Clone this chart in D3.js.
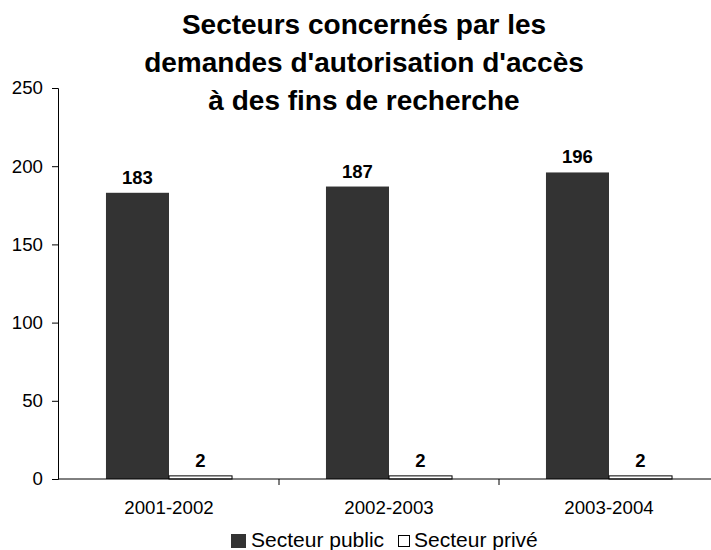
<!DOCTYPE html>
<html><head><meta charset="utf-8">
<script src="https://cdn.jsdelivr.net/npm/d3@7"></script>
<style>body{margin:0;background:#fff}svg{display:block;font-family:"Liberation Sans",Arial,sans-serif}</style>
</head><body><svg id="c" width="711" height="550"></svg>
<script>
const categories = ["2001-2002","2002-2003","2003-2004"];
const seriesNames = ["Secteur public","Secteur privé"];
const publicValues = [183,187,196];
const priveValues = [2,2,2];
const yTicks = [0,50,100,150,200,250];
const titleLines = ["Secteurs concernés par les","demandes d'autorisation d'accès","à des fins de recherche"];

const svg = d3.select("#c");
const colors = ["#333333","#ffffff"];
const FF = "Liberation Sans, Arial, sans-serif";
const y = d3.scaleLinear().domain([0,250]).range([479,88]);
const x0 = d3.scaleBand().domain(categories).range([59,719]).paddingInner(0.427).paddingOuter(0.2135);
const x1 = d3.scaleBand().domain(seriesNames).range([0,x0.bandwidth()]);
const xAxisScale = d3.scaleBand().domain(categories).range([59,719]);

// y axis
const ya = svg.append("g").attr("transform","translate(58,0)")
  .call(d3.axisLeft(y).tickValues(yTicks).tickSize(6).tickPadding(9));
ya.selectAll("text").attr("font-size",18.7).attr("fill","#000").attr("font-family",FF);
ya.selectAll("line,path").attr("stroke","#000");

// bars
const data = categories.map((c,i)=>({c, vals:[publicValues[i],priveValues[i]]}));
const g = svg.append("g");
data.forEach(d=>{
  d.vals.forEach((v,j)=>{
    const xx = x0(d.c)+x1(seriesNames[j]);
    g.append("rect").attr("x",xx).attr("y",y(v)).attr("width",x1.bandwidth()).attr("height",y(0)-y(v))
      .attr("fill",colors[j]).attr("stroke",j===1?"#000":"none").attr("stroke-width",1);
    g.append("text").attr("x",xx+x1.bandwidth()/2).attr("y",y(v)-9).attr("text-anchor","middle")
      .attr("font-size",18.5).attr("font-weight","bold").text(v);
  });
});

// x axis
const xa = svg.append("g").attr("transform","translate(0,479)")
  .call(d3.axisBottom(xAxisScale).tickSize(0).tickPadding(22));
xa.select("path").attr("stroke","#000").attr("d","M58,0H711");
xa.selectAll("text").attr("font-size",18.7).attr("fill","#000").attr("font-family",FF);
xa.selectAll(".sep").data(categories.slice(1)).enter().append("line")
  .attr("x1",d=>xAxisScale(d)).attr("x2",d=>xAxisScale(d)).attr("y1",0).attr("y2",6).attr("stroke","#000");

// title
svg.append("text").attr("text-anchor","middle").attr("font-size",28).attr("font-weight","bold")
  .selectAll("tspan").data(titleLines).enter().append("tspan")
  .attr("x",364).attr("y",(d,i)=>34+i*38).text(d=>d);

// legend
const leg = svg.append("g");
const legPos = [231,398];
seriesNames.forEach((n,j)=>{
  if(j===0) leg.append("rect").attr("x",legPos[j]).attr("y",534).attr("width",15).attr("height",14).attr("fill",colors[j]);
  else leg.append("rect").attr("x",legPos[j]+0.5).attr("y",535.5).attr("width",11).attr("height",11).attr("fill",colors[j]).attr("stroke","#000");
  leg.append("text").attr("x",j===0?251:414).attr("y",547).attr("font-size",21).text(n);
});
</script></body></html>
